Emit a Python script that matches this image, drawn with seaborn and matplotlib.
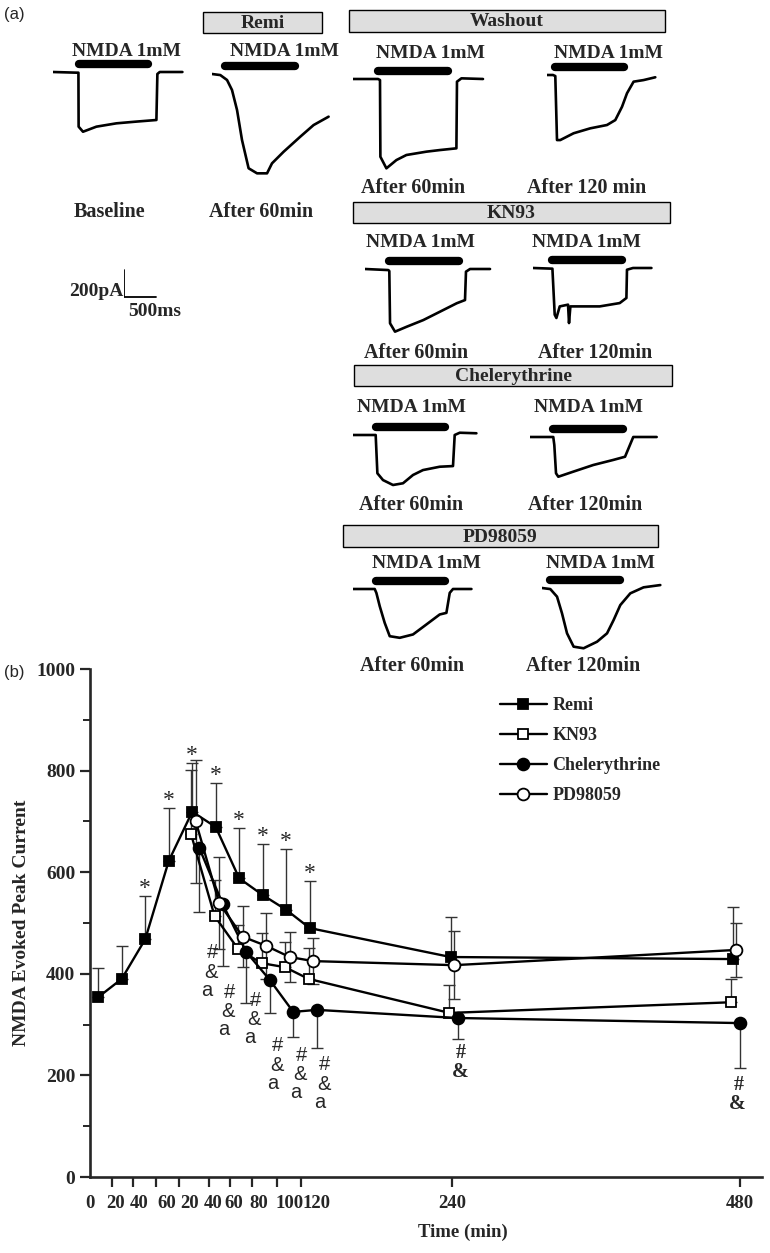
import numpy as np
import pandas as pd
import seaborn as sns
import matplotlib.pyplot as plt
from matplotlib.patches import Rectangle

sns.set_theme(style="ticks")
plt.rcParams['font.family'] = ['Liberation Serif', 'DejaVu Serif']
plt.rcParams['font.weight'] = 'bold'

W, H = 770, 1253

# ---------------- panel (b) data ----------------
time_remi = [0, 20, 40, 60, 80, 100, 120, 140, 160, 180, 300, 540]
remi = [354, 390, 468, 622, 719, 689, 588, 555, 526, 490, 433, 429]
remi_err = [58, 65, 85, 104, 96, 87, 99, 100, 119, 93, 79, 102]

time_drug = [80, 100, 120, 140, 160, 180, 300, 540]
kn93 = [675, 514, 449, 421, 413, 390, 323, 344]
kn93_err = [126, 71, 47, 60, 49, 61, 55, 46]
chel = [648, 537, 443, 388, 325, 329, 313, 303]
chel_err = [127, 122, 101, 66, 49, 75, 41, 88]
pd98 = [700, 539, 473, 455, 433, 425, 417, 447]
pd98_err = [121, 91, 60, 65, 50, 45, 67, 53]

# x axis: real minutes, relabelled (Remi 0-60, then washout 20-120, 240, 480)
x_tick_pos = [12, 30, 49, 69, 94, 112, 131, 152, 173, 301, 546]
x_label_pos = [-7, 15, 35, 58, 77.5, 98, 115.5, 136.5, 162.5, 186, 301, 546]
x_labels = ['0', '20', '40', '60', '20', '40', '60', '80', '100', '120', '240', '480']

star_times = [40, 60, 80, 100, 120, 140, 160, 180]
sig_x = [97, 112, 134, 153, 173, 193, 309, 545]
sig_y = [441, 364, 348, 258, 240, 221, 244, 181]
sig_txt = ['#&a'] * 6 + ['#&'] * 2

# ---------------- panel (a) traces (ms, pA from trace start) ----------------
base_t = [0, 358, 389, 392, 459, 664, 970, 1276, 1582, 1597, 1633, 1980]
base_i = [0, -5, -5, -410, -448, -410, -385, -372, -360, -15, 0, 0]
remi60_t = [0, 127, 230, 306, 383, 459, 560, 689, 842, 918, 1096, 1351, 1554, 1784]
remi60_i = [0, -8, -45, -120, -270, -495, -707, -745, -745, -670, -583, -470, -383, -320]
wash60_t = [0, 383, 413, 419, 511, 664, 817, 1123, 1327, 1582, 1591, 1659, 1989]
wash60_i = [0, 0, -8, -583, -670, -608, -570, -545, -533, -520, -20, 5, 0]
wash120_t = [0, 92, 127, 153, 203, 407, 662, 918, 1045, 1148, 1224, 1325, 1478, 1657]
wash120_i = [0, 0, -8, -488, -488, -437, -400, -375, -338, -238, -137, -50, -38, -17]
kn60_t = [0, 356, 372, 383, 459, 638, 892, 1148, 1403, 1530, 1545, 1607, 1913]
kn60_i = [0, -8, -15, -407, -470, -433, -383, -320, -257, -233, -20, 0, 0]
kn120_t = [0, 297, 332, 358, 409, 536, 551, 572, 714, 1021, 1327, 1429, 1438, 1530, 1812]
kn120_i = [0, -5, -350, -375, -288, -275, -413, -288, -288, -288, -263, -225, -13, 0, 0]
chel60_t = [0, 347, 373, 459, 612, 765, 918, 1071, 1327, 1530, 1556, 1633, 1888]
chel60_i = [0, 0, -287, -338, -375, -362, -300, -263, -238, -233, 0, 17, 13]
chel120_t = [0, 356, 372, 398, 433, 662, 968, 1274, 1454, 1580, 1938]
chel120_i = [0, 0, -60, -272, -298, -260, -210, -172, -148, 0, 0]
pd60_t = [0, 332, 358, 409, 485, 562, 715, 918, 1123, 1327, 1429, 1480, 1530, 1812]
pd60_i = [0, 0, -30, -129, -254, -354, -366, -341, -266, -191, -179, -29, 0, 0]
pd120_t = [0, 127, 230, 306, 383, 484, 636, 842, 995, 1096, 1198, 1351, 1554, 1810]
pd120_i = [0, -8, -65, -190, -340, -440, -452, -403, -340, -240, -128, -40, 5, 22]
nmda_on = [393, 204, 383, 116, 372, 297, 347, 356, 347, 127]
nmda_dur = 1065

traces = [(base_t, base_i), (remi60_t, remi60_i), (wash60_t, wash60_i),
          (wash120_t, wash120_i), (kn60_t, kn60_i), (kn120_t, kn120_i),
          (chel60_t, chel60_i), (chel120_t, chel120_i), (pd60_t, pd60_i),
          (pd120_t, pd120_i)]

# layout (pixels) of each trace start
trace_origin = [(53, 72), (212, 74), (353, 79), (547, 75), (365, 269),
                (533, 268), (353, 435), (530, 437), (353, 589), (542, 588)]
nmda_label_xy = [(127, 52), (284, 52), (431, 53), (608, 53), (421, 243),
                 (587, 243), (412, 407), (588, 407), (427, 563), (600, 563)]
cond_labels = [('Baseline', 110, 212), ('After 60min', 261, 212),
               ('After 60min', 413, 188), ('After 120 min', 587, 188),
               ('After 60min', 416, 353), ('After 120min', 595, 353),
               ('After 60min', 411, 505), ('After 120min', 585, 505),
               ('After 60min', 412, 666), ('After 120min', 583, 666)]
boxes = [('Remi', 203, 12, 322, 33), ('Washout', 349, 10, 665, 32),
         ('KN93', 353, 202, 670, 223), ('Chelerythrine', 354, 365, 672, 386),
         ('PD98059', 343, 525, 658, 547)]

MS_PER_PX = 15.3
PA_PER_PX = 7.5

fig = plt.figure(figsize=(W / 100, H / 100), dpi=100)


def fxy(x, y):
    return x / W, 1 - y / H


def trace_axes(x0, y0, w_ms=2100, top_pa=120, bot_pa=-800):
    left, right = x0, x0 + w_ms / MS_PER_PX
    top, bottom = y0 - top_pa / PA_PER_PX, y0 - bot_pa / PA_PER_PX
    a = fig.add_axes([left / W, 1 - bottom / H, (right - left) / W, (bottom - top) / H])
    a.set_xlim(0, w_ms)
    a.set_ylim(bot_pa, top_pa)
    a.axis('off')
    return a


for (t, i), (x0, y0), on in zip(traces, trace_origin, nmda_on):
    ta = trace_axes(x0, y0)
    ta.plot(t, i, color='black', lw=1.9)
    ta.plot([on, on + nmda_dur], [62, 62], color='black', lw=6, solid_capstyle='round')

for (x, y) in nmda_label_xy:
    fig.text(*fxy(x, y), 'NMDA 1mM', ha='center', va='center', fontsize=14, fontweight='bold')
for txt, x, y in cond_labels:
    fig.text(*fxy(x, y), txt, ha='center', va='center', fontsize=14.5, fontweight='bold')
for txt, x1, y1, x2, y2 in boxes:
    fig.patches.append(Rectangle(fxy(x1, y2), (x2 - x1) / W, (y2 - y1) / H,
                                 transform=fig.transFigure, fc='#dedede', ec='black', lw=1))
    fig.text(*fxy((x1 + x2) / 2, (y1 + y2) / 2 + 1), txt, ha='center', va='center',
             fontsize=14, fontweight='bold')

# scale bar
sa = trace_axes(123.5, 297, w_ms=600, top_pa=250, bot_pa=-20)
sa.plot([0, 0, 500], [200, 0, 0], color='black', lw=1.3)
fig.text(*fxy(123, 291), '200pA', ha='right', va='center', fontsize=14, fontweight='bold')
fig.text(*fxy(155, 312), '500ms', ha='center', va='center', fontsize=14, fontweight='bold')

fig.text(*fxy(4, 15), '(a)', ha='left', va='center', fontsize=12, family='Liberation Sans',
         fontweight='normal')
fig.text(*fxy(4, 672), '(b)', ha='left', va='center', fontsize=12, family='Liberation Sans',
         fontweight='normal')

# ---------------- panel (b) ----------------
ax = fig.add_axes([90 / W, 1 - 1177 / H, 672 / W, 508 / H])

groups = [
    ('Remi', time_remi, remi, remi_err, 's', 'black', 0, 'up'),
    ('KN93', time_drug, kn93, kn93_err, 's', 'white', -1, 'up'),
    ('Chelerythrine', time_drug, chel, chel_err, 'o', 'black', 6, 'down'),
    ('PD98059', time_drug, pd98, pd98_err, 'o', 'white', 3, 'both'),
]
rows = []
for name, tt, vals, errs, mk, fc, dx, side in groups:
    for t, v, e in zip(tt, vals, errs):
        rows.append(dict(group=name, time=t, x=t + dx, current=v, err=e))
df = pd.DataFrame(rows)

for name, tt, vals, errs, mk, fc, dx, side in groups:
    sub = df[df.group == name]
    e = sub.err.to_numpy()
    z = np.zeros_like(e)
    lo, hi = {'up': (z, e), 'down': (e, z), 'both': (e, e)}[side]
    ax.errorbar(sub.x, sub.current, yerr=[lo, hi], fmt='none', ecolor='#333333',
                elinewidth=1.0, capsize=4.5, capthick=1.0, zorder=2)
    sns.lineplot(data=sub, x='x', y='current', ax=ax, color='black', lw=1.7,
                 marker=mk, markersize=8.5 if mk == 'o' else 7.5,
                 markerfacecolor=fc, markeredgecolor='black', markeredgewidth=1.3,
                 estimator=None, sort=False, label=name, zorder=3)

# significance marks
for t in star_times:
    k = time_remi.index(t)
    ax.annotate('*', (t, remi[k] + remi_err[k]), xytext=(0, -2), textcoords='offset points',
                ha='center', va='bottom', fontsize=17, fontweight='normal')
for x, y, s in zip(sig_x, sig_y, sig_txt):
    fam = 'Liberation Sans' if len(s) == 3 else 'Liberation Serif'
    wt = 'normal' if len(s) == 3 else 'bold'
    offs = [(0, 0), (-1, -14), (-4, -27)]
    for ch, (ox, oy) in zip(s, offs):
        ax.annotate(ch, (x, y), xytext=(ox, oy), textcoords='offset points',
                    ha='center', va='center', fontsize=14.5, family=fam, fontweight=wt)

ax.set_xlim(-1, 565)
ax.set_ylim(0, 1000)
ax.set_yticks(range(0, 1001, 200))
ax.set_yticks(range(100, 1000, 200), minor=True)
ax.xaxis.remove_overlapping_locs = False
ax.set_xticks(x_tick_pos)
ax.set_xticklabels([])
ax.set_xticks(x_label_pos, minor=True)
ax.set_xticklabels(x_labels, minor=True)
ax.tick_params(axis='y', which='major', direction='out', length=7, width=1.6, labelsize=14)
ax.tick_params(axis='y', which='minor', direction='out', length=5, width=1.4)
ax.tick_params(axis='x', which='major', direction='out', length=7, width=1.6)
ax.tick_params(axis='x', which='minor', length=0, pad=13, labelsize=13.5)
for lab in ax.get_yticklabels() + ax.get_xticklabels(minor=True):
    lab.set_fontweight('bold')
sns.despine(ax=ax)
for sp in ['left', 'bottom']:
    ax.spines[sp].set_linewidth(1.9)

ax.set_ylabel('NMDA Evoked Peak Current', fontsize=14, fontweight='bold')
ax.yaxis.set_label_coords(-0.09, 0.5)
ax.set_xlabel('Time (min)', fontsize=13.5, fontweight='bold')
ax.xaxis.set_label_coords(0.555, -0.092)

ax.legend(loc='upper left', bbox_to_anchor=(0.61, 0.945), frameon=False, handlelength=2.6,
          handletextpad=0.3, labelspacing=0.72, borderpad=0, borderaxespad=0,
          prop=dict(family='Liberation Serif', weight='bold', size=13))

fig.savefig('out.png', dpi=100)
